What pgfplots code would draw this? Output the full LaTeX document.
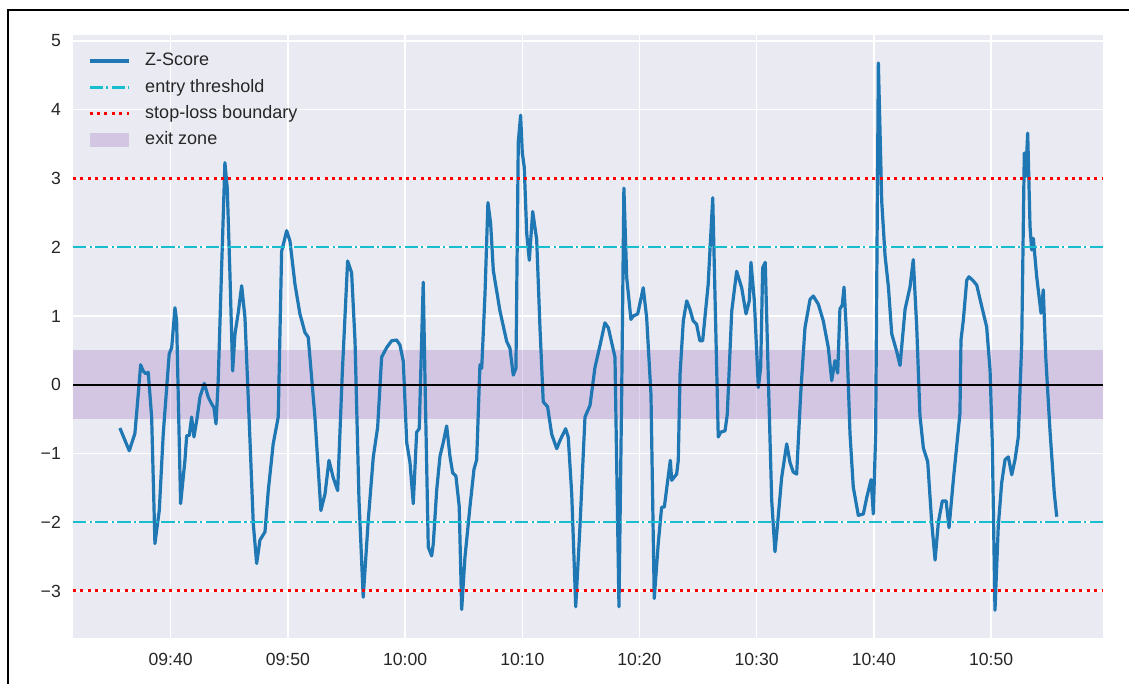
\documentclass[border=0pt]{standalone}
\usepackage{fontspec}
\setmainfont{Liberation Sans}
\usepackage{pgfplots}
\usepackage{pgfplotstable}
\pgfplotsset{compat=1.18}
\definecolor{axbg}{HTML}{EAEAF2}
\definecolor{zblue}{HTML}{1F77B4}
\definecolor{tcyan}{HTML}{17BECF}
\definecolor{tpurple}{HTML}{9467BD}
\definecolor{txt}{gray}{0.15}

% minutes after 09:00, z-score
\pgfplotstableread{
t z
35.67 -0.63
36.47 -0.96
36.95 -0.71
37.24 -0.13
37.44 0.29
37.66 0.20
37.89 0.16
38.09 0.18
38.38 -0.47
38.66 -2.31
39.03 -1.83
39.37 -0.71
39.88 0.45
40.09 0.54
40.37 1.12
40.51 0.93
40.85 -1.73
41.22 -1.10
41.37 -0.74
41.59 -0.74
41.79 -0.47
41.99 -0.76
42.27 -0.47
42.50 -0.18
42.87 0.02
43.21 -0.18
43.50 -0.28
43.69 -0.33
43.87 -0.57
44.06 0.06
44.35 1.70
44.63 3.23
44.83 2.86
45.06 1.61
45.29 0.20
45.49 0.74
45.77 1.05
46.06 1.44
46.34 0.98
46.77 -0.81
47.05 -2.02
47.34 -2.60
47.62 -2.26
48.05 -2.14
48.33 -1.54
48.75 -0.86
49.18 -0.47
49.47 1.94
49.90 2.24
50.18 2.09
50.61 1.46
51.03 1.03
51.46 0.76
51.74 0.69
52.31 -0.47
52.82 -1.83
53.17 -1.59
53.51 -1.10
53.87 -1.35
54.25 -1.54
54.64 0.15
55.10 1.80
55.44 1.63
55.73 0.64
56.07 -1.68
56.43 -3.09
56.86 -1.97
57.29 -1.05
57.66 -0.62
58.00 0.40
58.43 0.54
58.86 0.64
59.28 0.65
59.56 0.58
59.85 0.34
60.14 -0.84
60.42 -1.13
60.70 -1.73
60.99 -0.69
61.21 -0.64
61.55 1.49
61.70 0.09
61.98 -2.36
62.27 -2.49
62.41 -2.31
62.70 -1.53
62.98 -1.04
63.26 -0.84
63.55 -0.60
63.83 -1.04
64.06 -1.28
64.34 -1.33
64.62 -1.77
64.83 -3.27
65.11 -2.51
65.54 -1.77
65.88 -1.23
66.11 -1.09
66.39 0.29
66.54 0.24
66.82 1.32
67.07 2.65
67.30 2.35
67.53 1.66
68.10 1.07
68.67 0.63
68.95 0.53
69.23 0.14
69.46 0.24
69.66 3.53
69.86 3.92
70.00 3.38
70.17 3.16
70.38 2.20
70.60 1.81
70.89 2.52
71.23 2.11
71.51 0.83
71.79 -0.25
72.16 -0.32
72.51 -0.72
72.94 -0.93
73.22 -0.81
73.70 -0.64
73.92 -0.76
74.22 -1.59
74.56 -3.23
74.92 -2.07
75.35 -0.47
75.78 -0.30
76.20 0.25
76.63 0.57
77.05 0.90
77.34 0.83
77.91 0.40
78.05 -1.10
78.25 -3.23
78.48 -0.14
78.67 2.86
78.91 1.56
79.27 0.95
79.47 1.00
79.85 1.03
80.32 1.41
80.61 0.98
80.98 -0.14
81.26 -3.11
81.60 -2.31
81.89 -1.78
82.12 -1.78
82.41 -1.39
82.63 -1.10
82.75 -1.39
83.17 -1.30
83.31 -1.10
83.46 0.15
83.74 0.93
84.03 1.22
84.30 1.10
84.58 0.93
84.87 0.88
85.15 0.64
85.39 0.64
85.86 1.46
86.25 2.72
86.44 1.32
86.72 -0.76
86.93 -0.69
87.30 -0.67
87.49 -0.43
87.87 1.07
88.29 1.65
88.72 1.41
89.09 1.03
89.37 1.22
89.51 1.78
89.80 1.22
90.14 -0.04
90.34 0.25
90.51 1.70
90.73 1.78
90.99 0.11
91.28 -1.68
91.56 -2.43
91.76 -2.07
92.13 -1.35
92.56 -0.86
92.84 -1.13
93.12 -1.27
93.41 -1.30
93.75 -0.14
94.12 0.83
94.55 1.24
94.83 1.29
95.26 1.17
95.68 0.93
96.11 0.54
96.40 0.06
96.68 0.35
96.91 0.17
97.10 1.10
97.30 1.16
97.45 1.42
97.68 0.69
97.96 -0.71
98.24 -1.49
98.67 -1.90
99.10 -1.88
99.39 -1.64
99.76 -1.38
99.95 -1.88
100.15 -0.71
100.38 4.68
100.67 2.66
100.95 1.88
101.24 1.42
101.52 0.74
101.95 0.48
102.23 0.28
102.66 1.10
103.08 1.42
103.36 1.82
103.65 0.85
103.93 -0.45
104.22 -0.92
104.59 -1.12
104.93 -2.00
105.22 -2.55
105.50 -2.00
105.84 -1.69
106.16 -1.69
106.41 -2.08
106.78 -1.38
107.34 -0.42
107.43 0.65
107.63 0.94
107.92 1.52
108.11 1.57
108.48 1.51
108.77 1.45
109.20 1.14
109.62 0.84
109.91 0.21
110.10 -0.85
110.33 -3.28
110.61 -2.06
110.90 -1.43
111.19 -1.09
111.47 -1.05
111.76 -1.31
112.04 -1.09
112.32 -0.76
112.61 0.60
112.83 3.37
112.95 3.03
113.12 3.66
113.32 2.30
113.46 1.96
113.60 2.13
113.89 1.57
114.26 1.04
114.45 1.38
114.66 0.41
115.02 -0.66
115.39 -1.58
115.60 -1.92
}\zdata

\begin{document}
\begin{tikzpicture}
\begin{axis}[
  set layers=standard,
  at={(73bp,46bp)}, anchor=south west,
  scale only axis, width=1030bp, height=603bp,
  xmin=31.67, xmax=119.55, ymin=-3.684, ymax=5.087,
  axis background/.style={fill=axbg},
  axis line style={draw=none},
  major tick length=0pt,
  grid=major,
  major grid style={white, line width=1.5bp},
  xtick={40,50,60,70,80,90,100,110},
  xticklabels={09:40,09:50,10:00,10:10,10:20,10:30,10:40,10:50},
  ytick={-3,-2,-1,0,1,2,3,4,5},
  yticklabels={−3,−2,−1,0,1,2,3,4,5},
  tick label style={font=\fontsize{17.6bp}{20bp}\selectfont, text=txt, inner sep=0pt},
  xticklabel style={yshift=-15bp},
  yticklabel style={xshift=-12bp},
  legend cell align=left,
  legend style={at={(0.0146,0.9705)}, anchor=north west, draw=none, fill=none,
    inner sep=0pt, outer sep=0pt, font=\fontsize{18bp}{21bp}\selectfont, text=txt,
    row sep=9.8bp, column sep=15bp,
    nodes={inner sep=0pt, text height=13bp, text depth=3.5bp}},
  legend image code/.code={\draw[#1] (0bp,0bp) -- (39bp,0bp);},
]
\addplot[draw=none, fill=tpurple, fill opacity=0.27, forget plot]
  coordinates {(31.67,-0.5) (119.55,-0.5) (119.55,0.5) (31.67,0.5)} -- cycle;
\addplot[zblue, line width=3.2bp, line join=round] table[x=t,y=z] {\zdata};
\addlegendentry{Z-Score}
\addplot[tcyan, line width=2.4bp, dash pattern=on 13.3bp off 3.3bp on 2.2bp off 3.3bp]
  coordinates {(31.67,2) (119.55,2)};
\addlegendentry{entry threshold}
\addplot[tcyan, line width=2.4bp, dash pattern=on 13.3bp off 3.3bp on 2.2bp off 3.3bp, forget plot]
  coordinates {(31.67,-2) (119.55,-2)};
\addplot[red, line width=3bp, dash pattern=on 3bp off 4.4bp]
  coordinates {(31.67,3) (119.55,3)};
\addlegendentry{stop-loss boundary}
\addplot[red, line width=3bp, dash pattern=on 3bp off 4.4bp, forget plot]
  coordinates {(31.67,-3) (119.55,-3)};
\addplot[black, line width=2.4bp, forget plot]
  coordinates {(31.67,0) (119.55,0)};
\addlegendimage{legend image code/.code={\fill[draw=none, fill=tpurple, fill opacity=0.27] (0bp,-7bp) rectangle (39bp,7bp);}}
\addlegendentry{exit zone}
\end{axis}
\draw[line width=1.5bp] (8bp,0bp) -- (8bp,674bp) -- (1129bp,674bp);
\pgfresetboundingbox
\useasboundingbox (0,0) rectangle (1129bp,684bp);
\end{tikzpicture}
\end{document}
